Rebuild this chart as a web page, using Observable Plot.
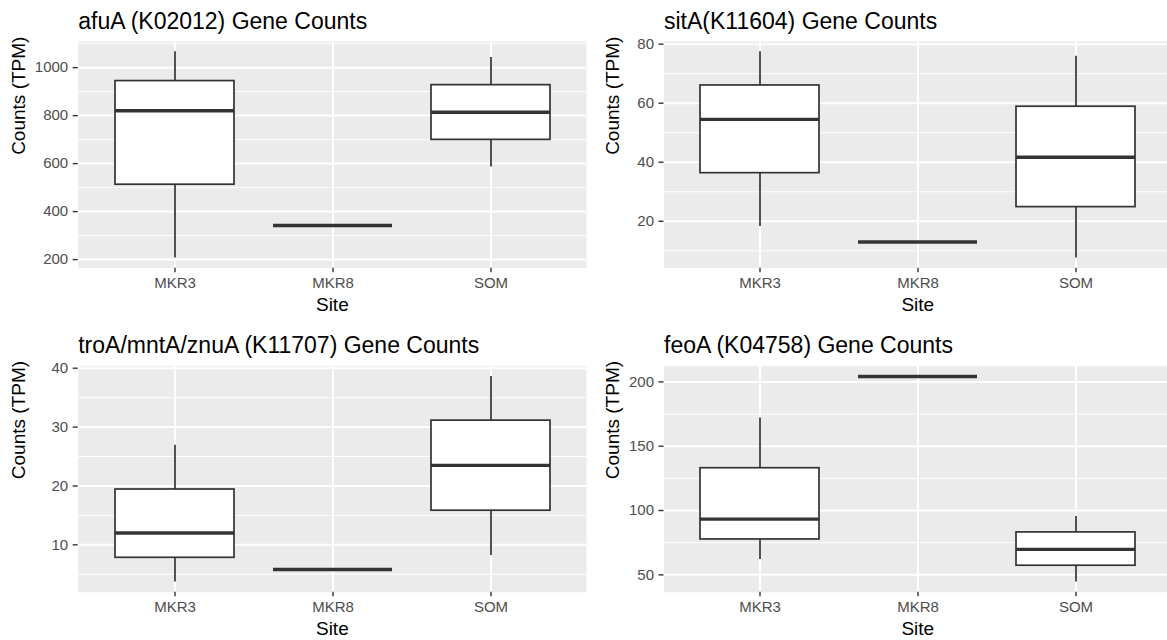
<!DOCTYPE html>
<html>
<head>
<meta charset="utf-8">
<script src="https://cdn.jsdelivr.net/npm/d3@7"></script>
<script src="https://cdn.jsdelivr.net/npm/@observablehq/plot@0.6"></script>
<style>
  body { margin: 0; background: white; }
  #page { position: relative; width: 1167px; height: 640px; overflow: hidden; background: white; }
  #page svg { position: absolute; }
</style>
</head>
<body>
<div id="page"></div>
<script>
// Sampling sites (x categories)
const sites = ["MKR3", "MKR8", "SOM"];

// afuA (K02012): box statistics per site
const afuaMin = [207, 342, 586];
const afuaQ1  = [512, 342, 699];
const afuaMed = [820, 342, 814];
const afuaQ3  = [944, 342, 927];
const afuaMax = [1066, 342, 1042];
const afuaTicks = [200, 400, 600, 800, 1000];

// sitA (K11604)
const sitaMin = [18.2, 13, 7.6];
const sitaQ1  = [36.3, 13, 24.8];
const sitaMed = [54.5, 13, 41.7];
const sitaQ3  = [66.0, 13, 58.8];
const sitaMax = [77.4, 13, 75.9];
const sitaTicks = [20, 40, 60, 80];

// troA/mntA/znuA (K11707)
const troaMin = [3.7, 5.8, 8.2];
const troaQ1  = [7.8, 5.8, 15.8];
const troaMed = [12.0, 5.8, 23.5];
const troaQ3  = [19.4, 5.8, 31.1];
const troaMax = [26.9, 5.8, 38.6];
const troaTicks = [10, 20, 30, 40];

// feoA (K04758)
const feoaMin = [62, 204.2, 44.5];
const feoaQ1  = [77.5, 204.2, 57.1];
const feoaMed = [93.3, 204.2, 69.8];
const feoaQ3  = [132.9, 204.2, 83];
const feoaMax = [171.9, 204.2, 95.4];
const feoaTicks = [50, 100, 150, 200];

const titles = [
  "afuA (K02012) Gene Counts",
  "sitA(K11604) Gene Counts",
  "troA/mntA/znuA (K11707) Gene Counts",
  "feoA (K04758) Gene Counts"
];
const xTitle = "Site";
const yTitle = "Counts (TPM)";

const FONT = "'Liberation Sans', Arial, Helvetica, sans-serif";
const INK = "#333333";

function panel({title, mins, q1s, meds, q3s, maxs, ticks, left, top, width, height, mt, mb, ml, mr, yTitleDx}) {
  const rows = sites.map((s, i) => ({site: s, min: mins[i], q1: q1s[i], med: meds[i], q3: q3s[i], max: maxs[i]}));
  const lo = d3.min(mins), hi = d3.max(maxs);
  const pad = (hi - lo) * 0.05;
  const domain = [lo - pad, hi + pad];
  const step = ticks[1] - ticks[0];
  const minor = d3.range(ticks[0] - step / 2, ticks[ticks.length - 1] + step, step)
    .filter(v => v >= domain[0] && v <= domain[1]);

  const svg = Plot.plot({
    width, height,
    marginTop: mt, marginBottom: mb, marginLeft: ml, marginRight: mr,
    style: {fontFamily: FONT, fontSize: "15px", background: "transparent", overflow: "visible"},
    x: {type: "band", domain: sites, paddingInner: 0.25, paddingOuter: 0.225, axis: null},
    y: {domain, axis: null},
    marks: [
      Plot.frame({fill: "#ebebeb", stroke: "none"}),
      Plot.gridY(minor, {stroke: "white", strokeOpacity: 1, strokeWidth: 1}),
      Plot.gridY(ticks, {stroke: "white", strokeOpacity: 1, strokeWidth: 2}),
      Plot.gridX({stroke: "white", strokeOpacity: 1, strokeWidth: 2}),
      // whiskers
      Plot.ruleX(rows, {x: "site", y1: "min", y2: "q1", stroke: INK, strokeWidth: 1.7}),
      Plot.ruleX(rows, {x: "site", y1: "q3", y2: "max", stroke: INK, strokeWidth: 1.7}),
      // boxes
      Plot.barY(rows, {x: "site", y1: "q1", y2: "q3", fill: "white", stroke: INK, strokeWidth: 1.7, inset: 0}),
      // medians
      Plot.tickY(rows, {x: "site", y: "med", stroke: INK, strokeWidth: 3.4}),
      // axes
      Plot.axisX({tickSize: 4.5, tickPadding: 4.8, fontSize: 15, fill: "#4d4d4d", stroke: INK, strokeWidth: 1.4, label: null}),
      Plot.axisY(ticks, {tickSize: 5, tickPadding: 5, fontSize: 15, fill: "#4d4d4d", stroke: INK, strokeWidth: 1.4, label: null, tickFormat: d => String(d)}),
      // titles
      Plot.text([title], {frameAnchor: "top-left", textAnchor: "start", lineAnchor: "bottom", dy: -13, fontSize: 23, fill: "black"}),
      Plot.text([xTitle], {frameAnchor: "bottom", lineAnchor: "bottom", dy: 42.3, fontSize: 19, fill: "black"}),
      Plot.text([yTitle], {frameAnchor: "left", rotate: -90, lineAnchor: "top", dx: yTitleDx, fontSize: 19, fill: "black"})
    ]
  });
  svg.style.left = left + "px";
  svg.style.top = top + "px";
  document.getElementById("page").appendChild(svg);
}

const topBox = {top: 0, height: 320, mt: 41, mb: 52.3};
const botBox = {top: 320, height: 320, mt: 45.7, mb: 48.3};
const leftBox = {left: 0, width: 586, ml: 77.7, mr: 0, yTitleDx: -66.7};
const rightBox = {left: 586, width: 585, ml: 77.5, mr: 0, yTitleDx: -58.5};

panel({title: titles[0], mins: afuaMin, q1s: afuaQ1, meds: afuaMed, q3s: afuaQ3, maxs: afuaMax, ticks: afuaTicks, ...topBox, ...leftBox});
panel({title: titles[1], mins: sitaMin, q1s: sitaQ1, meds: sitaMed, q3s: sitaQ3, maxs: sitaMax, ticks: sitaTicks, ...topBox, ...rightBox});
panel({title: titles[2], mins: troaMin, q1s: troaQ1, meds: troaMed, q3s: troaQ3, maxs: troaMax, ticks: troaTicks, ...botBox, ...leftBox});
panel({title: titles[3], mins: feoaMin, q1s: feoaQ1, meds: feoaMed, q3s: feoaQ3, maxs: feoaMax, ticks: feoaTicks, ...botBox, ...rightBox});
</script>
</body>
</html>
